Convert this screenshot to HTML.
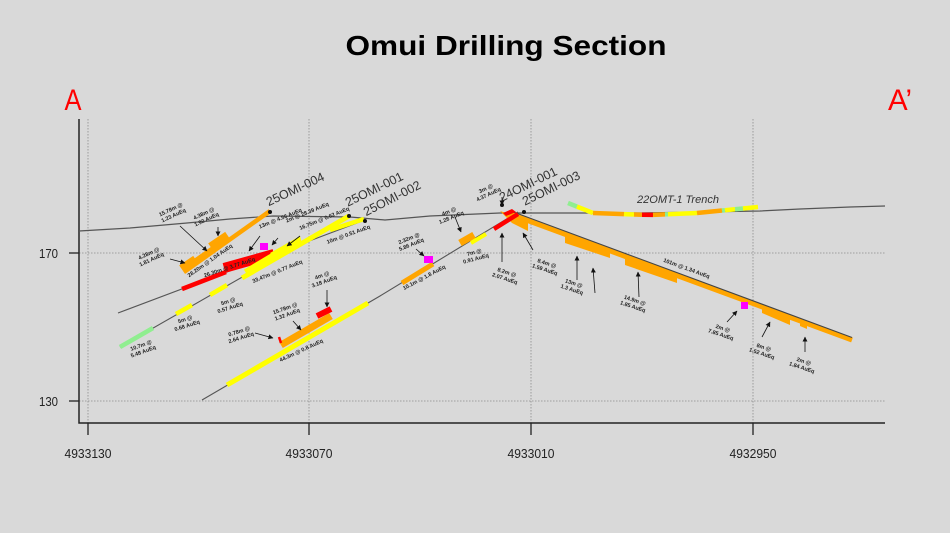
<!DOCTYPE html>
<html><head><meta charset="utf-8"><style>
html,body{margin:0;padding:0;background:#d9d9d9;}
svg{display:block;}
</style></head><body>
<svg width="950" height="533" viewBox="0 0 950 533" xmlns="http://www.w3.org/2000/svg" font-family="Liberation Sans, sans-serif">
<defs>
<marker id="ah" viewBox="0 0 6 6" refX="5.5" refY="3" markerUnits="userSpaceOnUse" markerWidth="5" markerHeight="5" orient="auto"><path d="M0,0 L6,3 L0,6 z" fill="#111"/></marker>
</defs>
<rect width="950" height="533" fill="#d9d9d9"/>

<!-- Title -->
<text x="506" y="55" text-anchor="middle" font-size="28" font-weight="bold" fill="#000" textLength="321" lengthAdjust="spacingAndGlyphs">Omui Drilling Section</text>
<text x="73" y="110" text-anchor="middle" font-size="30" fill="#ff0000" textLength="17" lengthAdjust="spacingAndGlyphs">A</text>
<text x="900" y="110" text-anchor="middle" font-size="30" fill="#ff0000" textLength="24" lengthAdjust="spacingAndGlyphs">A’</text>

<!-- Grid -->
<g stroke="#8a8a8a" stroke-width="0.8" stroke-dasharray="1.5,1.5" fill="none">
<line x1="88" y1="119" x2="88" y2="423"/>
<line x1="309" y1="119" x2="309" y2="423"/>
<line x1="531" y1="119" x2="531" y2="423"/>
<line x1="753" y1="119" x2="753" y2="423"/>
<line x1="79" y1="253" x2="885" y2="253"/>
<line x1="79" y1="401" x2="885" y2="401"/>
</g>

<!-- Axes -->
<path d="M79,119 V423 H885" stroke="#222" stroke-width="1.5" fill="none"/>
<g stroke="#222" stroke-width="1.3">
<line x1="69" y1="253" x2="79" y2="253"/>
<line x1="69" y1="401" x2="79" y2="401"/>
<line x1="88" y1="423" x2="88" y2="435"/>
<line x1="309" y1="423" x2="309" y2="435"/>
<line x1="531" y1="423" x2="531" y2="435"/>
<line x1="753" y1="423" x2="753" y2="435"/>
</g>
<g font-size="13" fill="#222">
<text x="58" y="258" text-anchor="end" textLength="19" lengthAdjust="spacingAndGlyphs">170</text>
<text x="58" y="406" text-anchor="end" textLength="19" lengthAdjust="spacingAndGlyphs">130</text>
<text x="88" y="458" text-anchor="middle" textLength="47" lengthAdjust="spacingAndGlyphs">4933130</text>
<text x="309" y="458" text-anchor="middle" textLength="47" lengthAdjust="spacingAndGlyphs">4933070</text>
<text x="531" y="458" text-anchor="middle" textLength="47" lengthAdjust="spacingAndGlyphs">4933010</text>
<text x="753" y="458" text-anchor="middle" textLength="47" lengthAdjust="spacingAndGlyphs">4932950</text>
</g>

<!-- Topography -->
<path d="M79,231 L130,228 L187,223 L230,219 L273,216 L350,217 L385,220 L430,216 L500,213 L560,213 L640,213 L700,212 L760,211 L800,209 L850,207 L885,206" stroke="#555" stroke-width="1.2" fill="none"/>

<!-- Hole traces (gray) -->
<g stroke="#555" stroke-width="1.1" fill="none">
<line x1="365" y1="220" x2="118" y2="313"/>
<line x1="349" y1="216" x2="120" y2="347"/>
<polyline points="202,400 380,296 518,212"/>
<line x1="270" y1="211" x2="184" y2="272"/>
</g>

<!-- 25OMI-004 orange -->
<g stroke="#ffa500" fill="none">
<line x1="270" y1="211" x2="184" y2="272" stroke-width="4.5"/>
<line x1="182" y1="269.5" x2="196" y2="260" stroke-width="10"/>
<line x1="194" y1="263" x2="214" y2="249" stroke-width="7"/>
<line x1="211" y1="247.5" x2="228" y2="236" stroke-width="10"/>
</g>

<!-- 25OMI-002 intercepts -->
<line x1="182" y1="289" x2="226" y2="272" stroke="#ff0000" stroke-width="4.5"/>
<line x1="224" y1="268" x2="274" y2="254" stroke="#ff0000" stroke-width="10"/>
<rect x="260" y="243" width="8" height="7" fill="#ff00ff"/>
<line x1="330" y1="230" x2="364" y2="219" stroke="#ffff00" stroke-width="4.5"/>

<!-- 25OMI-001 intercepts -->
<line x1="120" y1="347" x2="153" y2="328" stroke="#90ee90" stroke-width="4.5"/>
<line x1="176" y1="314" x2="192" y2="305" stroke="#ffff00" stroke-width="4.5"/>
<line x1="210" y1="295" x2="227" y2="285" stroke="#ffff00" stroke-width="4.5"/>
<line x1="242" y1="278" x2="349" y2="216" stroke="#ffff00" stroke-width="5"/>
<line x1="246" y1="273" x2="276" y2="255" stroke="#ffff00" stroke-width="8"/>
<polygon points="270,253 300,236 302,244 276,258" fill="#ffff00"/>

<!-- line 3 (24OMI-001) intercepts -->
<line x1="227" y1="385" x2="368" y2="303" stroke="#ffff00" stroke-width="5"/>
<line x1="281" y1="345" x2="331" y2="316" stroke="#ffa500" stroke-width="7"/>
<line x1="317" y1="316" x2="331" y2="309" stroke="#ff0000" stroke-width="6"/>
<line x1="279" y1="337" x2="281" y2="343" stroke="#ff0000" stroke-width="2.5"/>
<line x1="402" y1="283" x2="433" y2="264" stroke="#ffa500" stroke-width="5"/>
<rect x="424" y="256" width="9" height="7" fill="#ff00ff"/>
<line x1="460" y1="243" x2="474" y2="235" stroke="#ffa500" stroke-width="7"/>
<line x1="471" y1="243" x2="486" y2="234" stroke="#ffff00" stroke-width="4"/>

<!-- down-right hole (25OMI-003) -->
<polygon points="500,211 528,220 528,231 512,223" fill="#ffa500"/>
<line x1="510" y1="214" x2="852" y2="340" stroke="#ffa500" stroke-width="5"/>
<polygon points="565,233 565,243 610,258 610,249" fill="#ffa500"/>
<polygon points="625,254 625,265 677,283 677,273" fill="#ffa500"/>
<polygon points="762,304 762,313 790,325 790,315" fill="#ffa500"/>
<polygon points="800,318 800,326 807,329 807,321" fill="#ffa500"/>
<line x1="512" y1="211.5" x2="852" y2="337.5" stroke="#444" stroke-width="1.1"/>
<rect x="741" y="302" width="7" height="7" fill="#ff00ff"/>

<!-- red at collar of line 3 -->
<line x1="494" y1="229" x2="518" y2="214" stroke="#ff0000" stroke-width="4.5"/>
<polygon points="503,213 512,209 516,212 506,216" fill="#ff0000"/>

<!-- Trench -->
<g stroke-width="4.5" fill="none" stroke-linecap="butt">
<line x1="568" y1="203" x2="577" y2="206.6" stroke="#90ee90"/>
<line x1="577" y1="206.6" x2="593" y2="213" stroke="#ffff00"/>
<line x1="593" y1="213" x2="624" y2="214.1" stroke="#ffa500"/>
<line x1="624" y1="214.1" x2="634" y2="214.5" stroke="#ffff00"/>
<line x1="634" y1="214.5" x2="642" y2="214.7" stroke="#ffa500"/>
<line x1="642" y1="214.7" x2="653" y2="214.9" stroke="#ff0000"/>
<line x1="653" y1="214.9" x2="665" y2="214.4" stroke="#ffa500"/>
<line x1="665" y1="214.4" x2="668" y2="214.3" stroke="#90ee90"/>
<line x1="668" y1="214.3" x2="697" y2="213" stroke="#ffff00"/>
<line x1="697" y1="213" x2="722" y2="210.5" stroke="#ffa500"/>
<line x1="722" y1="210.5" x2="725" y2="210.2" stroke="#90ee90"/>
<line x1="725" y1="210.2" x2="735" y2="209.3" stroke="#ffff00"/>
<line x1="735" y1="209.3" x2="743" y2="208.5" stroke="#90ee90"/>
<line x1="743" y1="208.5" x2="758" y2="207" stroke="#ffff00"/>
</g>
<text x="678" y="203" text-anchor="middle" font-size="11" font-style="italic" fill="#333">22OMT-1 Trench</text>

<!-- collar dots -->
<g fill="#111">
<circle cx="270" cy="212" r="2"/>
<circle cx="349" cy="216" r="2"/>
<circle cx="365" cy="221" r="2"/>
<circle cx="502" cy="205" r="2"/>
<circle cx="524" cy="212" r="2"/>
</g>

<!-- Hole labels -->
<g font-size="12.5" fill="#333">
<text transform="translate(297,193) rotate(-25)" text-anchor="middle">25OMI-004</text>
<text transform="translate(376,193) rotate(-26)" text-anchor="middle">25OMI-001</text>
<text transform="translate(394,202) rotate(-27)" text-anchor="middle">25OMI-002</text>
<text transform="translate(530,188) rotate(-26)" text-anchor="middle">24OMI-001</text>
<text transform="translate(553,192) rotate(-26)" text-anchor="middle">25OMI-003</text>
</g>

<!-- Arrows -->
<g stroke="#111" stroke-width="0.8" marker-end="url(#ah)">
<line x1="180" y1="226" x2="207" y2="251"/>
<line x1="218" y1="227" x2="218" y2="236"/>
<line x1="170" y1="259" x2="185" y2="263"/>
<line x1="260" y1="236" x2="249" y2="251"/>
<line x1="278" y1="238" x2="272" y2="245"/>
<line x1="300" y1="236" x2="287" y2="246"/>
<line x1="255" y1="333" x2="273" y2="338"/>
<line x1="293" y1="321" x2="301" y2="330"/>
<line x1="327" y1="290" x2="327" y2="307"/>
<line x1="455" y1="217" x2="461" y2="232"/>
<line x1="416" y1="249" x2="424" y2="256"/>
<line x1="502" y1="197" x2="502" y2="205"/>
<line x1="502" y1="262" x2="502" y2="233"/>
<line x1="533" y1="250" x2="523" y2="233"/>
<line x1="577" y1="280" x2="577" y2="256"/>
<line x1="595" y1="293" x2="593" y2="268"/>
<line x1="639" y1="297" x2="638" y2="272"/>
<line x1="727" y1="322" x2="737" y2="311"/>
<line x1="762" y1="337" x2="770" y2="322"/>
<line x1="805" y1="352" x2="805" y2="337"/>
</g>

<!-- Intercept labels -->
<g font-size="5.5" font-weight="bold" fill="#222" text-anchor="middle">
<text transform="translate(172,212) rotate(-25)"><tspan x="0" dy="-1">15.78m @</tspan><tspan x="0" dy="6.5">1.23 AuEq</tspan></text>
<text transform="translate(205,216) rotate(-25)"><tspan x="0" dy="-1">4.38m @</tspan><tspan x="0" dy="6.5">1.92 AuEq</tspan></text>
<text transform="translate(150,256) rotate(-25)"><tspan x="0" dy="-1">4.28m @</tspan><tspan x="0" dy="6.5">1.81 AuEq</tspan></text>
<text transform="translate(211,262) rotate(-35)">28.20m @ 1.04 AuEq</text>
<text transform="translate(230,269) rotate(-18)">26.30m @ 3.77 AuEq</text>
<text transform="translate(281,220) rotate(-22)">13m @ 4.56 AuEq</text>
<text transform="translate(308,214) rotate(-22)">2m @ 28.39 AuEq</text>
<text transform="translate(325,220) rotate(-22)">16.75m @ 0.62 AuEq</text>
<text transform="translate(278,273) rotate(-22)">33.47m @ 0.77 AuEq</text>
<text transform="translate(349,236) rotate(-20)">10m @ 0.51 AuEq</text>
<text transform="translate(302,352) rotate(-25)">44.3m @ 0.8 AuEq</text>
<text transform="translate(286,311) rotate(-20)"><tspan x="0" dy="-1">15.78m @</tspan><tspan x="0" dy="6.5">1.32 AuEq</tspan></text>
<text transform="translate(323,278) rotate(-20)"><tspan x="0" dy="-1">4m @</tspan><tspan x="0" dy="6.5">3.18 AuEq</tspan></text>
<text transform="translate(142,348) rotate(-20)"><tspan x="0" dy="-1">10.7m @</tspan><tspan x="0" dy="6.5">5.48 AuEq</tspan></text>
<text transform="translate(186,322) rotate(-18)"><tspan x="0" dy="-1">5m @</tspan><tspan x="0" dy="6.5">0.68 AuEq</tspan></text>
<text transform="translate(229,304) rotate(-18)"><tspan x="0" dy="-1">5m @</tspan><tspan x="0" dy="6.5">0.57 AuEq</tspan></text>
<text transform="translate(240,334) rotate(-18)"><tspan x="0" dy="-1">0.78m @</tspan><tspan x="0" dy="6.5">2.64 AuEq</tspan></text>
<text transform="translate(487,191) rotate(-25)"><tspan x="0" dy="-1">3m @</tspan><tspan x="0" dy="6.5">4.37 AuEq</tspan></text>
<text transform="translate(450,214) rotate(-22)"><tspan x="0" dy="-1">4m @</tspan><tspan x="0" dy="6.5">1.28 AuEq</tspan></text>
<text transform="translate(410,241) rotate(-22)"><tspan x="0" dy="-1">2.32m @</tspan><tspan x="0" dy="6.5">5.86 AuEq</tspan></text>
<text transform="translate(475,255) rotate(-15)"><tspan x="0" dy="-1">7m @</tspan><tspan x="0" dy="6.5">0.91 AuEq</tspan></text>
<text transform="translate(425,279) rotate(-28)">10.1m @ 1.8 AuEq</text>
<text transform="translate(506,275) rotate(18)"><tspan x="0" dy="-1">8.2m @</tspan><tspan x="0" dy="6.5">2.07 AuEq</tspan></text>
<text transform="translate(546,266) rotate(18)"><tspan x="0" dy="-1">8.4m @</tspan><tspan x="0" dy="6.5">1.59 AuEq</tspan></text>
<text transform="translate(573,286) rotate(18)"><tspan x="0" dy="-1">13m @</tspan><tspan x="0" dy="6.5">1.3 AuEq</tspan></text>
<text transform="translate(634,303) rotate(18)"><tspan x="0" dy="-1">14.9m @</tspan><tspan x="0" dy="6.5">1.85 AuEq</tspan></text>
<text transform="translate(686,270) rotate(20)">101m @ 1.34 AuEq</text>
<text transform="translate(722,331) rotate(18)"><tspan x="0" dy="-1">2m @</tspan><tspan x="0" dy="6.5">7.85 AuEq</tspan></text>
<text transform="translate(763,350) rotate(18)"><tspan x="0" dy="-1">8m @</tspan><tspan x="0" dy="6.5">1.52 AuEq</tspan></text>
<text transform="translate(803,364) rotate(18)"><tspan x="0" dy="-1">2m @</tspan><tspan x="0" dy="6.5">1.84 AuEq</tspan></text>
</g>
</svg>
</body></html>
